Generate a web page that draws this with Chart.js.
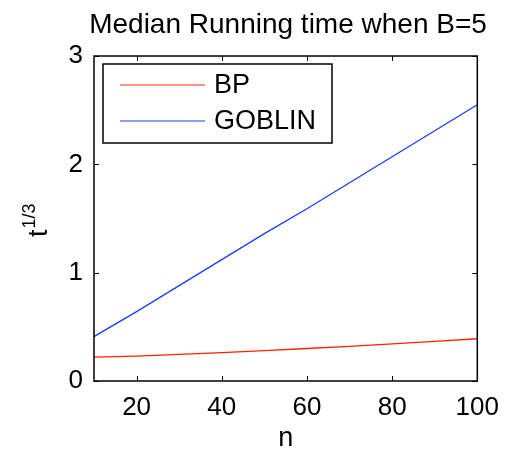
<!DOCTYPE html>
<html>
<head>
<meta charset="utf-8">
<script src="https://cdn.jsdelivr.net/npm/chart.js@4/dist/chart.umd.min.js"></script>
<style>
  body { margin: 0; background: #fff; }
  #wrap { width: 510px; height: 451px; }
</style>
</head>
<body>
<div id="wrap"><canvas id="myChart" width="510" height="451"></canvas></div>
<script>
// data
const titulo = 'Median Running time when B=5';
const nValores = [10, 20, 30, 40, 50, 60, 70, 80, 90, 100];
const serieBP = [0.22, 0.23, 0.245, 0.262, 0.28, 0.30, 0.32, 0.343, 0.365, 0.39];
const serieGOBLIN = [0.41, 0.64, 0.88, 1.12, 1.36, 1.59, 1.83, 2.07, 2.31, 2.55];
const ticksX = [20, 40, 60, 80, 100];
const ticksY = [0, 1, 2, 3];

const fonte = '"Liberation Sans", Arial, sans-serif';

function pontos(ys) {
	return nValores.map(function(n, i) { return { x: n, y: ys[i] }; });
}

// borda, ticks para dentro, titulos e legenda no estilo matlab
const estiloMatlab = {
	id: 'estiloMatlab',
	afterDraw: function(chart) {
		const c = chart.ctx;
		const a = chart.chartArea;
		const sx = chart.scales.x, sy = chart.scales.y;
		c.save();
		c.strokeStyle = '#000';
		c.lineWidth = 1.5;
		c.strokeRect(a.left, a.top, a.right - a.left, a.bottom - a.top);

		c.lineWidth = 1;
		c.beginPath();
		ticksX.forEach(function(v) {
			const px = Math.round(sx.getPixelForValue(v)) + 0.5;
			c.moveTo(px, a.bottom); c.lineTo(px, a.bottom - 5);
			c.moveTo(px, a.top); c.lineTo(px, a.top + 5);
		});
		ticksY.forEach(function(v) {
			const py = Math.round(sy.getPixelForValue(v)) + 0.5;
			c.moveTo(a.left, py); c.lineTo(a.left + 5, py);
			c.moveTo(a.right, py); c.lineTo(a.right - 5, py);
		});
		c.stroke();

		c.fillStyle = '#000';
		// titulo
		c.font = '28px ' + fonte;
		c.textAlign = 'center';
		c.textBaseline = 'alphabetic';
		c.fillText(titulo, 288, 33);

		// rotulo x
		c.font = '27px ' + fonte;
		c.fillText('n', (a.left + a.right) / 2, 446);

		// rotulo y: t^(1/3)
		c.save();
		c.translate(47, 237);
		c.rotate(-Math.PI / 2);
		c.textAlign = 'left';
		c.font = '27px ' + fonte;
		c.fillText('t', 0, 0);
		const wt = c.measureText('t').width;
		c.font = '18px ' + fonte;
		c.fillText('1/3', wt + 1, -12);
		c.restore();

		// legenda
		const lx = 103, ly = 64, lw = 229, lh = 79;
		c.fillStyle = '#fff';
		c.fillRect(lx, ly, lw, lh);
		c.strokeStyle = '#000';
		c.lineWidth = 1.5;
		c.strokeRect(lx, ly, lw, lh);
		c.font = '27px ' + fonte;
		c.textAlign = 'left';
		c.textBaseline = 'middle';
		chart.data.datasets.forEach(function(ds, i) {
			const yy = ly + 21 + i * 36;
			c.strokeStyle = ds.borderColor;
			c.lineWidth = 1.2;
			c.beginPath();
			c.moveTo(120, yy); c.lineTo(205, yy);
			c.stroke();
			c.fillStyle = '#000';
			c.fillText(ds.label, 214, yy + 1);
		});
		c.restore();
	}
};

const ctx = document.getElementById('myChart').getContext('2d');
new Chart(ctx, {
	type: 'line',
	data: {
		datasets: [{
			label: 'BP',
			data: pontos(serieBP),
			borderColor: '#ff2200',
			borderWidth: 1.3,
			pointRadius: 0,
			tension: 0
		}, {
			label: 'GOBLIN',
			data: pontos(serieGOBLIN),
			borderColor: '#1a3cff',
			borderWidth: 1.3,
			pointRadius: 0,
			tension: 0
		}]
	},
	options: {
		responsive: false,
		animation: false,
		layout: { padding: { left: 0, top: 56, right: 31, bottom: 0 } },
		plugins: {
			legend: { display: false },
			title: { display: false },
			tooltip: { enabled: false }
		},
		scales: {
			x: {
				type: 'linear',
				min: 10,
				max: 100,
				afterBuildTicks: function(s) { s.ticks = ticksX.map(function(v) { return { value: v }; }); },
				afterFit: function(s) { s.height = 70; },
				grid: { display: false, drawTicks: false },
				border: { display: false },
				ticks: { color: '#000', font: { family: fonte, size: 26 }, padding: 11, maxRotation: 0 }
			},
			y: {
				min: 0,
				max: 3,
				afterBuildTicks: function(s) { s.ticks = ticksY.map(function(v) { return { value: v }; }); },
				afterFit: function(s) { s.width = 94; },
				grid: { display: false, drawTicks: false },
				border: { display: false },
				ticks: { color: '#000', font: { family: fonte, size: 26 }, padding: 11 }
			}
		}
	},
	plugins: [estiloMatlab]
});
</script>
</body>
</html>
